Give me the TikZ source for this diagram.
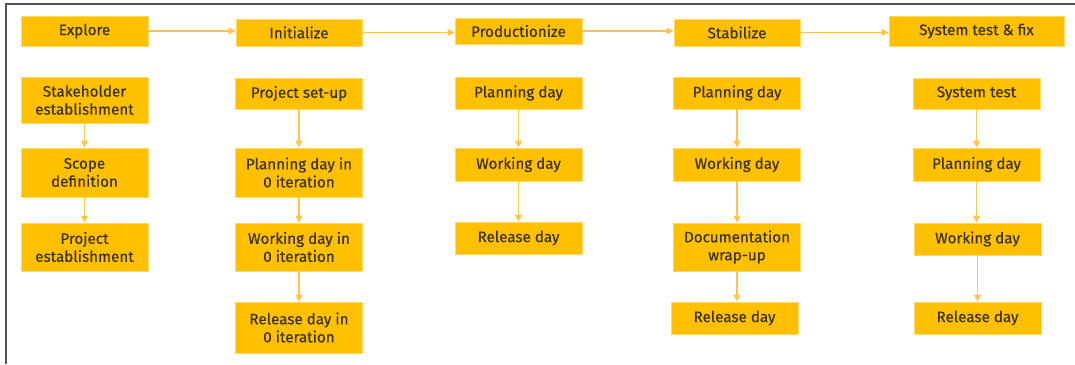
\documentclass[tikz,border=0pt]{standalone}
\usepackage{fontspec}
\setmainfont{Fira Sans}
\newfontfamily\boxfont{Fira Sans}[FakeBold=0.35]
\usetikzlibrary{arrows.meta}
\definecolor{boxfill}{HTML}{FFC000}
\definecolor{boxedge}{HTML}{FFD966}
\definecolor{arrowcol}{HTML}{FFC54A}
\definecolor{txtcol}{HTML}{3A3410}
\definecolor{framecol}{HTML}{555555}
\tikzset{
  stepbox/.style={draw=boxedge, line width=0.8pt, fill=boxfill, text=txtcol, inner sep=0pt,
    align=center, font=\boxfont\fontsize{15.2}{18}\selectfont, minimum width=127pt},
  flow/.style={draw=arrowcol, line width=1.3pt, -{Triangle[length=7pt,width=7pt]}}
}
\begin{document}
\begin{tikzpicture}[x=1pt,y=-1pt]
\useasboundingbox (0,0) rectangle (1075,364);
\coordinate (fTL) at (6,4);
\coordinate (fTR) at (1075,4);
\coordinate (fBL) at (6,364);
\draw[framecol, line width=1.6pt] (fBL) -- (fTL) -- (fTR);
% top row
\node[stepbox, minimum height=30pt] (E) at (84.5,31) {Explore};
\node[stepbox, minimum width=126pt, minimum height=27pt] (I) at (299,32.5) {Initialize};
\node[stepbox, minimum height=26pt] (P) at (518.5,31) {Productionize};
\node[stepbox, minimum width=126pt, minimum height=27pt] (S) at (737,32.5) {Stabilize};
\node[stepbox, minimum width=175pt, minimum height=30pt] (T) at (976.5,31) {System test \& fix};
\draw[flow] (E.east) -- (E.east -| I.west);
\draw[flow] (I.east) -- (I.east -| P.west);
\draw[flow] (P.east) -- (P.east -| S.west);
\draw[flow] (S.east) -- (S.east -| T.west);
% column 1
\node[stepbox, minimum height=46pt] (a1) at (84.5,100) {Stakeholder\\establishment};
\node[stepbox, minimum height=49pt] (a2) at (84.5,172.5) {Scope\\definition};
\node[stepbox, minimum height=48pt] (a3) at (84.5,247) {Project\\establishment};
\draw[flow] (a1) -- (a2);
\draw[flow] (a2) -- (a3);
% column 2
\node[stepbox, minimum height=31pt] (b1) at (299,93.5) {Project set-up};
\node[stepbox, minimum height=49pt] (b2) at (299,172.5) {Planning day in\\0 iteration};
\node[stepbox, minimum height=48pt] (b3) at (299,247) {Working day in\\0 iteration};
\node[stepbox, minimum height=51pt] (b4) at (299,327.5) {Release day in\\0 iteration};
\draw[flow] (b1) -- (b2);
\draw[flow] (b2) -- (b3);
\draw[flow] (b3) -- (b4);
% column 3
\node[stepbox, minimum height=32pt] (c1) at (518.5,93) {Planning day};
\node[stepbox, minimum height=33pt] (c2) at (518.5,164.5) {Working day};
\node[stepbox, minimum height=32pt] (c3) at (518.5,238) {Release day};
\draw[flow] (c1) -- (c2);
\draw[flow] (c2) -- (c3);
% column 4
\node[stepbox, minimum height=32pt] (d1) at (737,93) {Planning day};
\node[stepbox, minimum height=33pt] (d2) at (737,164.5) {Working day};
\node[stepbox, minimum height=48pt] (d3) at (737,247) {Documentation\\wrap-up};
\node[stepbox, minimum height=32pt] (d4) at (734.5,318) {Release day};
\draw[flow] (d1) -- (d2);
\draw[flow] (d2) -- (d3);
\draw[flow] (d3.south) -- (d3.south |- d4.north);
% column 5
\node[stepbox, minimum height=31pt] (e1) at (976.5,93.5) {System test};
\node[stepbox, minimum height=33pt] (e2) at (976.5,164.5) {Planning day};
\node[stepbox, minimum height=32pt] (e3) at (977.5,239) {Working day};
\node[stepbox, minimum height=32pt] (e4) at (977.5,318) {Release day};
\draw[flow] (e1.south) -- (e1.south |- e2.north);
\draw[flow] (e2.south) -- (e2.south |- e3.north);
\draw[flow] (e3) -- (e4);
\end{tikzpicture}
\end{document}
